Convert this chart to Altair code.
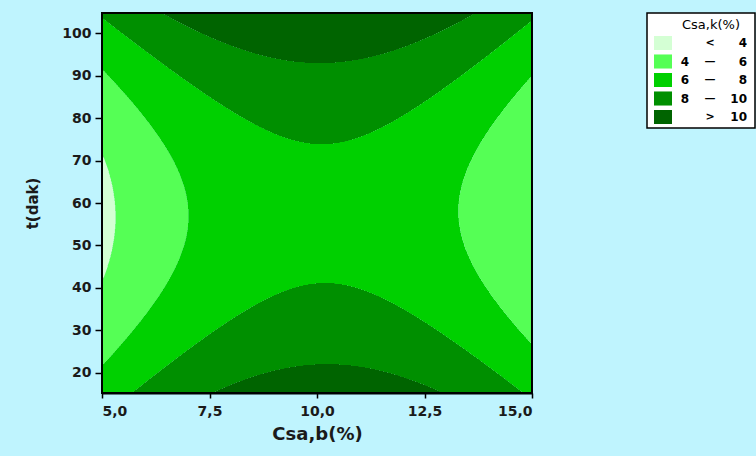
import numpy as np
import pandas as pd
import altair as alt

# Fitted quadratic response surface of Csa,k (%) over Csa,b (%) and t (dak):
#   Csa,k = saddle_value + c_xx*dx^2 + c_tt*dt^2 + c_xt*dx*dt
#   with dx = x - x0 and dt = t - t0
saddle_point = [10.15, 57.5]      # (Csa,b, t) at the saddle
saddle_value = 7.46               # Csa,k at the saddle
curvature = [-0.148, 0.00202]     # c_xx, c_tt
interaction = -0.0007             # c_xt

x_domain = [5.0, 15.0]
t_domain = [15.25, 104.75]
x_ticks = [5.0, 7.5, 10.0, 12.5, 15.0]
t_ticks = [20, 30, 40, 50, 60, 70, 80, 90, 100]

level_edges = [4, 6, 8, 10]
level_names = ["<4", "4-6", "6-8", "8-10", ">10"]
level_colors = ["#d4ffd4", "#55ff55", "#00d000", "#008f00", "#006400"]
legend_lo = ["", "4", "6", "8", ""]
legend_sym = ["<", "\u2014", "\u2014", "\u2014", ">"]
legend_hi = ["4", "6", "8", "10", "10"]

PLOT_W, PLOT_H = 430, 380
FONT = "DejaVu Sans"

# Evaluate the surface on a fine grid; one row per screen pixel and
# merge consecutive cells of the same level into a single band.
x_edges = np.linspace(x_domain[0], x_domain[1], 1201)
t_edges = np.linspace(t_domain[0], t_domain[1], PLOT_H + 1)
x_mid = 0.5 * (x_edges[:-1] + x_edges[1:])
records = []
for i in range(PLOT_H):
    t_mid = 0.5 * (t_edges[i] + t_edges[i + 1])
    dx = x_mid - saddle_point[0]
    dt = t_mid - saddle_point[1]
    z = (saddle_value + curvature[0] * dx ** 2 + curvature[1] * dt ** 2
         + interaction * dx * dt)
    cls = np.digitize(z, level_edges)
    breaks = np.flatnonzero(np.diff(cls)) + 1
    starts = np.concatenate([[0], breaks])
    ends = np.concatenate([breaks, [len(cls)]])
    for s, e in zip(starts, ends):
        records.append({
            "x0": x_edges[s], "x1": x_edges[e],
            "t0": t_edges[i], "t1": t_edges[i + 1],
            "level": level_names[cls[s]],
        })
bands = pd.DataFrame(records)

x_scale = alt.Scale(domain=x_domain, nice=False, zero=False)
t_scale = alt.Scale(domain=t_domain, nice=False, zero=False)

contours = alt.Chart(bands).mark_rect(strokeWidth=0).encode(
    x=alt.X("x0:Q", scale=x_scale, axis=alt.Axis(
        values=x_ticks, title="Csa,b(%)",
        labelExpr="replace(format(datum.value, '.1f'), '.', ',')",
        tickSize=5, labelPadding=6, titlePadding=7,
        labelFontSize=14, titleFontSize=18, labelFontWeight="bold",
    )),
    x2="x1:Q",
    y=alt.Y("t0:Q", scale=t_scale, axis=alt.Axis(
        values=t_ticks, title="t(dak)",
        tickSize=7, labelPadding=4, titlePadding=21,
        labelFontSize=14, titleFontSize=15, labelFontWeight="bold",
    )),
    y2="t1:Q",
    color=alt.Color("level:N", scale=alt.Scale(domain=level_names, range=level_colors),
                    legend=None),
)

# Border round the plot area, drawn above the filled bands
frame = alt.Chart(pd.DataFrame({"a": [0]})).mark_rect(
    fillOpacity=0, stroke="#000000", strokeWidth=2
).encode(
    x=alt.XDatum(x_domain[0], scale=x_scale),
    x2=alt.X2Datum(x_domain[1]),
    y=alt.YDatum(t_domain[0], scale=t_scale, axis=None),
    y2=alt.Y2Datum(t_domain[1]),
)

# Legend box built from the level table
legend_rows = pd.DataFrame({
    "row": list(range(len(level_names))),
    "level": level_names,
    "lo": legend_lo, "sym": legend_sym, "hi": legend_hi,
})
row_y = alt.Y("row:Q", scale=alt.Scale(domain=[0, 4], range=[30, 104]), axis=None)

legend_box = alt.Chart(pd.DataFrame({"a": [0]})).mark_rect(
    fill="white", stroke="#000000", strokeWidth=1.5
).encode(
    x=alt.value(545), x2=alt.value(653), y=alt.value(0), y2=alt.value(115),
)
legend_title = alt.Chart(pd.DataFrame({"t": ["Csa,k(%)"]})).mark_text(
    font=FONT, fontSize=13, color="#000000", align="center", baseline="middle"
).encode(x=alt.value(609), y=alt.value(12), text="t:N")

swatches = alt.Chart(legend_rows).mark_rect().transform_calculate(
    r0="datum.row - 0.38", r1="datum.row + 0.38"
).encode(
    x=alt.value(552), x2=alt.value(570),
    y=alt.Y("r0:Q", scale=alt.Scale(domain=[0, 4], range=[30, 104]), axis=None),
    y2="r1:Q",
    color=alt.Color("level:N", scale=alt.Scale(domain=level_names, range=level_colors),
                    legend=None),
)
text_style = dict(font=FONT, fontSize=12, fontWeight="bold", color="#000000",
                  baseline="middle")
col_lo = alt.Chart(legend_rows).mark_text(align="center", **text_style).encode(
    x=alt.value(583), y=row_y, text="lo:N")
col_sym = alt.Chart(legend_rows).mark_text(align="center", fontSize=11,
                                           **{k: v for k, v in text_style.items()
                                              if k != "fontSize"}).encode(
    x=alt.value(608), y=row_y, text="sym:N")
col_hi = alt.Chart(legend_rows).mark_text(align="right", **text_style).encode(
    x=alt.value(645), y=row_y, text="hi:N")

chart = alt.layer(
    contours, frame, legend_box, legend_title, swatches, col_lo, col_sym, col_hi
).resolve_scale(
    y="independent", color="independent"
).properties(
    width=PLOT_W, height=PLOT_H,
    autosize=alt.AutoSizeParams(type="none"),
    padding={"left": 102, "top": 13, "right": 224, "bottom": 63},
    background="#bff4fe",
).configure_view(
    stroke=None
).configure_axis(
    labelFont=FONT, titleFont=FONT, titleFontWeight="bold",
    labelColor="#1a1a1a", titleColor="#1a1a1a",
    domainColor="#000000", domainWidth=2, tickColor="#000000", tickWidth=1.5,
    grid=False, zindex=1,
)

chart.save("out.html", embed_options={"renderer": "svg", "actions": False})
